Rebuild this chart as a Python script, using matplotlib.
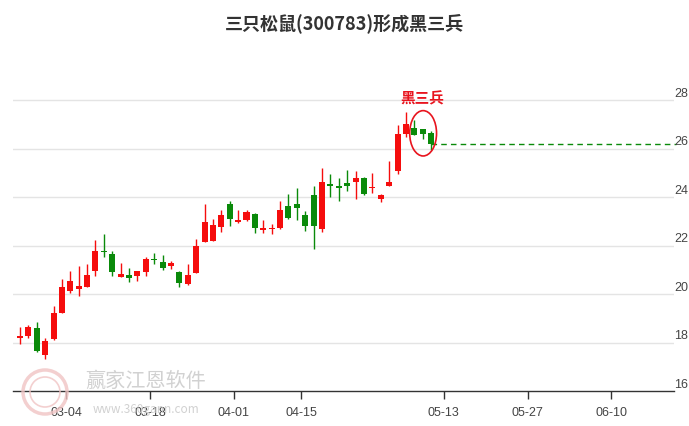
import matplotlib.pyplot as plt
import matplotlib.patches as mpatches
import matplotlib.transforms as mtransforms
import numpy as np
import pandas as pd

plt.rcParams['font.family'] = ['Noto Sans CJK SC', 'DejaVu Sans']

title = '三只松鼠(300783)形成黑三兵'
pattern_label = '黑三兵'

# trading days (market holidays removed), the chart runs on a trading-day index
holidays = ['2024-04-04', '2024-04-05', '2024-05-01', '2024-05-02', '2024-05-03']
days = pd.bdate_range('2024-02-26', '2024-06-28')
days = days[~days.isin(pd.to_datetime(holidays))]
day_labels = [d.strftime('%m-%d') for d in days]

opens = [18.18, 18.25, 18.58, 17.48, 18.14, 19.20, 20.14, 20.21, 20.28, 20.94,
         21.79, 21.66, 20.72, 20.80, 20.76, 20.90, 21.43, 21.32, 21.15, 20.91,
         20.41, 20.88, 22.13, 22.20, 22.78, 23.73, 22.97, 23.04, 23.31, 22.63,
         22.68, 22.71, 23.65, 23.73, 23.24, 24.07, 22.69, 24.54, 24.44, 24.58,
         24.62, 24.79, 24.37, 23.93, 24.44, 25.06, 26.61, 26.86, 26.79, 26.65]
highs = [18.62, 18.72, 18.86, 18.17, 19.49, 20.62, 20.97, 21.17, 21.24, 22.23,
         22.48, 21.77, 21.27, 21.06, 20.94, 21.52, 21.68, 21.59, 21.38, 20.95,
         21.25, 22.26, 23.72, 23.08, 23.46, 23.82, 23.48, 23.48, 23.35, 23.04,
         22.87, 23.85, 24.12, 24.37, 23.41, 24.47, 25.20, 24.97, 24.79, 25.13,
         25.06, 24.81, 25.00, 24.12, 25.48, 26.99, 27.52, 27.16, 26.79, 26.74]
lows = [17.93, 18.19, 17.60, 17.31, 18.12, 19.20, 20.04, 19.93, 20.28, 20.76,
        21.52, 20.73, 20.72, 20.48, 20.55, 20.76, 21.24, 21.00, 21.02, 20.27,
        20.37, 20.88, 22.13, 22.20, 22.54, 22.81, 22.92, 23.01, 22.51, 22.51,
        22.47, 22.67, 23.10, 23.05, 22.62, 21.86, 22.55, 24.00, 23.85, 24.23,
        23.93, 24.10, 24.17, 23.79, 24.44, 24.95, 26.48, 26.58, 26.40, 25.96]
closes = [18.28, 18.66, 17.63, 18.06, 19.20, 20.30, 20.54, 20.34, 20.79, 21.79,
          21.74, 20.90, 20.81, 20.66, 20.94, 21.45, 21.40, 21.08, 21.29, 20.47,
          20.77, 21.99, 22.97, 22.83, 23.25, 23.10, 23.04, 23.38, 22.71, 22.71,
          22.70, 23.48, 23.15, 23.55, 22.79, 22.79, 24.62, 24.46, 24.37, 24.44,
          24.79, 24.14, 24.41, 24.07, 24.62, 26.61, 27.03, 26.58, 26.61, 26.19]

tick_labels = ['03-04', '03-18', '04-01', '04-15', '05-13', '05-27', '06-10']
y_ticks = [16, 18, 20, 22, 24, 26, 28]

up_color = '#f50d0d'
down_color = '#0a8a0a'

fig = plt.figure(figsize=(6.89, 4.27), dpi=100)
ax = fig.add_axes([13 / 689, 35 / 427, 661 / 689, 320 / 427])

n = len(closes)
x = np.arange(n)
for i in range(n):
    o, h, l, c = opens[i], highs[i], lows[i], closes[i]
    col = up_color if c >= o else down_color
    ax.vlines(x[i], l, h, color=col, lw=1, zorder=3)
    body = max(abs(c - o), 0.05)
    ax.bar(x[i], body, bottom=min(o, c), width=0.72, color=col, zorder=4)

ax.set_xlim(-0.83, 77.95)
ax.set_ylim(16, 29.2)

# grid lines + right side labels sitting on the lines
for v in y_ticks[1:]:
    ax.axhline(v, color='#e4e4e4', lw=1, zorder=0)
lbl_trans = mtransforms.blended_transform_factory(ax.transAxes, ax.transData)
for v in y_ticks:
    ax.text(1 + 14 / 661, v + 0.05, str(v), transform=lbl_trans, ha='right', va='bottom',
            fontsize=9, color='#444444', family='Liberation Sans', clip_on=False)

# dashed line from the last close
ax.hlines(closes[-1], x[-1], 78.2, colors=down_color, linestyles=(0, (4, 3)), lw=1,
          zorder=2, clip_on=False)

# ellipse around the last three candles
hi3 = max(highs[-3:])
lo3 = min(lows[-3:])
ell = mpatches.Ellipse((x[-2] + 0.05, (hi3 + lo3) / 2 + 0.07), 3.2, 1.87,
                       fill=False, edgecolor='#e8141e', lw=1.2, zorder=5)
ax.add_patch(ell)
ax.text(x[-2] - 0.05, 28.1, pattern_label, ha='center', va='center', fontsize=10.5,
        fontweight='bold', color='#e8141e')

tick_pos = [day_labels.index(t) + 0.5 for t in tick_labels]
ax.set_xticks(tick_pos)
ax.set_xticklabels(tick_labels, fontsize=9, color='#444444', family='Liberation Sans')
ax.tick_params(axis='x', direction='out', length=6, width=1, color='#333333', pad=5)
ax.set_yticks([])
for s in ['left', 'top', 'right']:
    ax.spines[s].set_visible(False)
ax.spines['bottom'].set_color('#333333')
ax.spines['bottom'].set_linewidth(1)

fig.text(0.5, 1 - 23 / 427, title, ha='center', va='center', fontsize=13,
         fontweight='bold', color='#333333')

# watermark
fig.text(146 / 689, 1 - 381 / 427, '赢家江恩软件', ha='center', va='center', fontsize=14.5,
         color='#cccccc', alpha=0.9)
fig.text(146 / 689, 1 - 410 / 427, 'www.360gann.com', ha='center', va='center', fontsize=8.5,
         color='#cccccc', alpha=0.9)
logo = mpatches.Ellipse((45 / 689, 1 - 393 / 427), 44 / 689, 44 / 427, transform=fig.transFigure,
                        fill=False, edgecolor='#f0c4c4', lw=2.5, alpha=0.8)
fig.patches.append(logo)
logo2 = mpatches.Ellipse((45 / 689, 1 - 393 / 427), 30 / 689, 30 / 427, transform=fig.transFigure,
                         fill=False, edgecolor='#f0c4c4', lw=1.2, alpha=0.8)
fig.patches.append(logo2)

fig.savefig('out.png', dpi=100)
